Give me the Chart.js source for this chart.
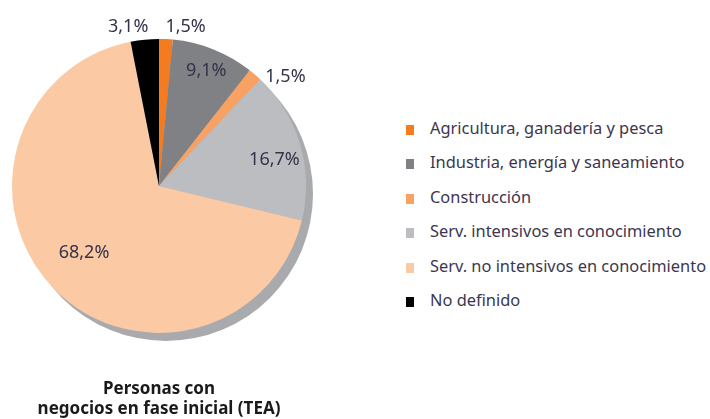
<!DOCTYPE html>
<html>
<head>
<meta charset="utf-8">
<script src="https://cdn.jsdelivr.net/npm/chart.js@4/dist/chart.umd.min.js"></script>
<style>
  html, body { margin: 0; padding: 0; background: #fff; }
  #wrap { position: relative; width: 710px; height: 419px; overflow: hidden; }
  #pie { position: absolute; left: 0; top: 0; }
  #legend { position: absolute; left: 406px; top: 110.5px; font-family: "Noto Sans", sans-serif; font-size: 16.4px; color: #3b3650; }
  #legend .row { height: 34.6px; line-height: 34.6px; white-space: nowrap; }
  #legend .box { display: inline-block; width: 8px; height: 10px; margin-right: 16px; vertical-align: -1px; }
</style>
</head>
<body>
<div id="wrap">
  <canvas id="pie" width="320" height="419"></canvas>
  <div id="legend"></div>
</div>
<script>
// Sectores de actividad — personas con negocios en fase inicial (TEA)

const SECTORS = [
  'Agricultura, ganadería y pesca',
  'Industria, energía y saneamiento',
  'Construcción',
  'Serv. intensivos en conocimiento',
  'Serv. no intensivos en conocimiento',
  'No definido',
];
const SHARES = [1.5, 9.1, 1.5, 16.7, 68.2, 3.1];
const TITLE_LINES = ['Personas con', 'negocios en fase inicial (TEA)'];

const COLORS = ['#f47b20', '#808184', '#f7a262', '#bcbdc0', '#fbc9a3', '#000000'];
const FONT = '"Noto Sans", sans-serif';

// where each % label sits: fraction of the radius, and angle nudge in degrees
const LABEL_PLACE = [
  { r: 1.097, da: 6.8 },
  { r: 0.846, da: 0.6 },
  { r: 1.134, da: 8.5 },
  { r: 0.805, da: 3.7 },
  { r: 0.684, da: 2.0 },
  { r: 1.102, da: -5.4 },
];

const fmt = v => v.toFixed(1).replace('.', ',') + '%';

// ─── SHADOW ────────────────────────────────────────────────
const pieShadow = {
  id: 'pieShadow',
  beforeDatasetsDraw(chart, args, opts) {
    const arc = chart.getDatasetMeta(0).data[0];
    if (!arc) return;
    const { x, y, outerRadius } = arc.getProps(['x', 'y', 'outerRadius'], true);
    const ctx = chart.ctx;
    ctx.save();
    ctx.fillStyle = opts.color;
    ctx.beginPath();
    ctx.arc(x + opts.dx, y + opts.dy, outerRadius, 0, Math.PI * 2);
    ctx.fill();
    ctx.restore();
  },
};

// ─── % LABELS ──────────────────────────────────────────────
const sliceLabels = {
  id: 'sliceLabels',
  afterDatasetsDraw(chart, args, opts) {
    const ctx = chart.ctx;
    const values = chart.data.datasets[0].data;
    ctx.save();
    ctx.font = `${opts.size}px ${FONT}`;
    ctx.fillStyle = opts.color;
    ctx.textAlign = 'center';
    ctx.textBaseline = 'middle';
    chart.getDatasetMeta(0).data.forEach((arc, i) => {
      const p = arc.getProps(['x', 'y', 'startAngle', 'endAngle', 'outerRadius'], true);
      const place = LABEL_PLACE[i];
      const a = (p.startAngle + p.endAngle) / 2 + place.da * Math.PI / 180;
      const r = p.outerRadius * place.r;
      ctx.fillText(fmt(values[i]), p.x + Math.cos(a) * r, p.y + Math.sin(a) * r);
    });
    ctx.restore();
  },
};

new Chart(document.getElementById('pie'), {
  type: 'pie',
  data: {
    labels: SECTORS,
    datasets: [{
      data: SHARES,
      backgroundColor: COLORS,
      borderWidth: 0,
      radius: 147,
    }],
  },
  options: {
    responsive: false,
    animation: false,
    events: [],
    layout: { padding: { left: 0, right: 2, top: 0, bottom: 0 } },
    plugins: {
      legend: { display: false },
      tooltip: { enabled: false },
      title: {
        display: true,
        position: 'bottom',
        text: TITLE_LINES,
        color: '#1a1a1a',
        font: { family: FONT, size: 17, weight: 'bold', lineHeight: 1.18 },
        padding: { top: 7, bottom: 0 },
      },
      pieShadow: { color: '#a8aaad', dx: 7, dy: 8 },
      sliceLabels: { size: 18, color: '#36324a' },
    },
  },
  plugins: [pieShadow, sliceLabels],
});

// ─── LEGEND ────────────────────────────────────────────────
document.getElementById('legend').innerHTML = SECTORS.map((s, i) =>
  `<div class="row"><span class="box" style="background:${COLORS[i]}"></span>${s}</div>`
).join('');
</script>
</body>
</html>
